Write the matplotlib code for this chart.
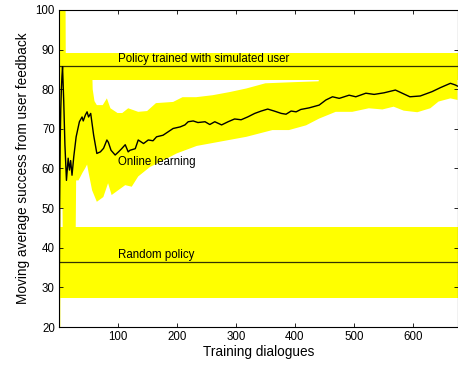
import numpy as np
import matplotlib
matplotlib.use('Agg')
import matplotlib.pyplot as plt

plt.rcParams['font.family'] = ['Liberation Sans', 'DejaVu Sans']

# reference levels (mean and confidence band)
sim_mean, sim_lo, sim_hi = 85.8, 82.3, 89.1
rand_mean, rand_lo, rand_hi = 36.3, 27.2, 45.3

# online learning: moving average success rate
dialogues = [1, 2, 3, 4, 5, 6, 7, 9, 11, 13.6, 16.5, 18.7, 20.7, 23, 26, 30,
             35.5, 40, 42, 45.6, 48.5, 51, 54.6, 59.6, 65, 71, 76.4, 82, 84.5,
             89, 96, 101.7, 107, 113, 118, 121, 130, 135, 144, 152, 160, 166,
             177, 186, 194, 206, 214, 219.5, 228, 236, 248, 256, 264.5, 276,
             287, 298, 309, 320, 332, 343, 354, 365, 377, 385, 393.6, 402, 410,
             424, 441, 452.5, 463.6, 475, 491.7, 503, 520, 534, 550.7, 570,
             581.5, 594.5, 612, 632, 646, 663, 671, 675]
success = [0, 50, 66.7, 75, 80, 83.3, 85.7, 77, 66, 57, 62.6, 59.6, 62, 58.3,
           63, 68, 71.8, 73, 72, 73.5, 74.3, 73, 73.9, 68.4, 63.8, 64.2, 65.1,
           67.2, 66.6, 64.6, 63.4, 64.2, 65, 66, 64.2, 64.6, 65, 67.2, 66.3,
           67.2, 67, 68, 68.4, 69.3, 70.1, 70.5, 71, 71.8, 72, 71.6, 71.8, 71.1,
           71.8, 71, 71.8, 72.5, 72.3, 73, 73.9, 74.5, 75, 74.5, 73.9, 73.7,
           74.5, 74.3, 74.9, 75.3, 76, 77.3, 78.1, 77.7, 78.5, 78.1, 79, 78.7,
           79.1, 79.8, 79, 78.1, 78.3, 79.4, 80.4, 81.5, 81.1, 80.8]

# confidence band of the online curve
up_x = [1, 12, 12.5, 57, 58, 61, 65, 75, 82, 88, 100, 108, 118, 135, 150, 165,
        194, 210, 233, 261, 290, 318, 350, 400, 440, 446, 675]
up_y = [105, 105, 86, 86, 80, 77, 76, 76, 77.7, 75.2, 74, 74, 75.2, 74.3, 74.5,
        76.5, 76.8, 78, 78, 78.5, 79.3, 80.2, 81.5, 81.8, 82, 86, 86]
lo_x = [1, 3, 3.5, 7, 7.5, 29, 30, 34, 41, 45, 48.5, 51, 57, 65, 76, 84, 90,
        101, 113, 124, 135, 155, 177, 200, 234, 256, 318, 362, 390, 419, 441,
        469, 497, 525, 548, 567, 584, 607, 629, 643, 663, 675]
lo_y = [0, 0, 50, 50, 40, 40, 57, 57, 59, 60, 61, 59, 54.5, 51.6, 52.8, 56.3,
        53.3, 54.5, 55.8, 55.4, 58, 60.4, 62, 63.8, 65.7, 66.3, 68, 69.7, 69.7,
        70.9, 72.6, 74.3, 74.3, 75.2, 74.9, 75.6, 74.6, 74.2, 75.2, 76.9, 77.7,
        77.3]

fig = plt.figure(figsize=(4.58, 3.65), dpi=100)
ax = fig.add_axes([59 / 458, 38 / 365, 398.5 / 458, 317 / 365])

yellow = (1, 1, 0)
x0, x1 = 1, 675
ax.fill_between([x0, x1], sim_lo, sim_hi, color=yellow, lw=0)
ax.fill_between([x0, x1], rand_lo, rand_hi, color=yellow, lw=0)
ax.fill(np.concatenate([up_x, lo_x[::-1]]), np.concatenate([up_y, lo_y[::-1]]),
        color=yellow, lw=0)

ax.plot([x0, x1], [sim_mean, sim_mean], color='#333300', lw=0.9)
ax.plot([x0, x1], [rand_mean, rand_mean], color='#333300', lw=0.9)
ax.plot(dialogues, success, color='black', lw=1.0)

ax.text(100, 87.6, 'Policy trained with simulated user', fontsize=8.3, va='center')
ax.text(100, 61.7, 'Online learning', fontsize=8.3, va='center')
ax.text(100, 38.2, 'Random policy', fontsize=8.3, va='center')

ax.set_xlim(x0, x1)
ax.set_ylim(20, 100)
ax.set_xticks([100, 200, 300, 400, 500, 600])
ax.set_yticks(range(20, 101, 10))
ax.tick_params(direction='in', top=True, right=True, length=3, width=0.6,
               labelsize=8.3, pad=3)
for s in ax.spines.values():
    s.set_linewidth(0.8)

ax.set_xlabel('Training dialogues', fontsize=9.8, labelpad=1)
ax.set_ylabel('Moving average success from user feedback', fontsize=9.8, labelpad=4)

fig.savefig('out.png', dpi=100)
